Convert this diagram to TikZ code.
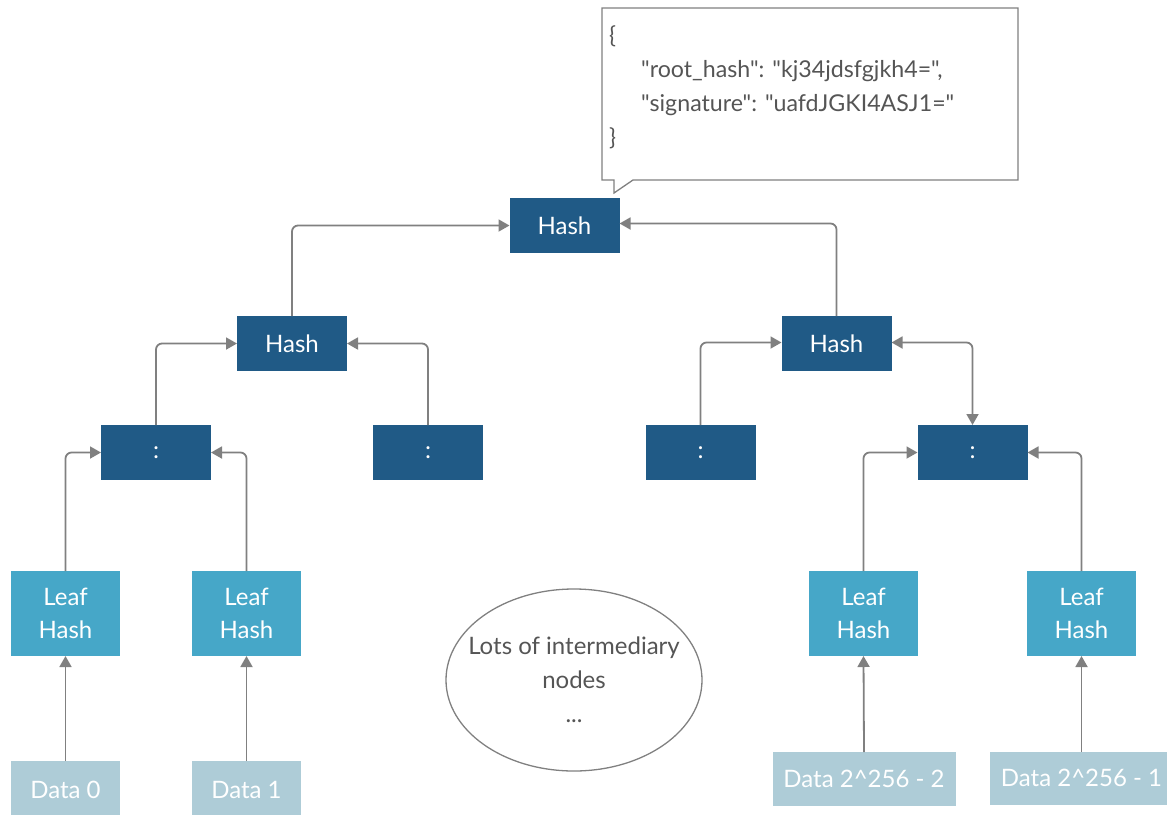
\documentclass[tikz,border=0pt]{standalone}
\usepackage{fontspec}
\setmainfont{Lato}[Ligatures=TeXOff]
\usetikzlibrary{arrows.meta,shapes.geometric}

\definecolor{hashblue}{RGB}{32,90,134}
\definecolor{leafblue}{RGB}{70,167,200}
\definecolor{datablue}{RGB}{174,204,215}
\definecolor{linegrey}{RGB}{128,128,128}
\definecolor{textgrey}{RGB}{85,85,85}

\tikzset{
  hashbox/.style={rectangle, fill=hashblue, text=white, inner sep=0pt, outer sep=0pt,
    minimum width=110pt, minimum height=55pt, font=\fontsize{24}{28}\selectfont},
  leafbox/.style={rectangle, fill=leafblue, text=white, inner sep=0pt, outer sep=0pt,
    minimum width=109pt, minimum height=85pt, align=center,
    font=\fontsize{24}{33}\selectfont},
  databox/.style={rectangle, fill=datablue, text=white, inner sep=0pt, outer sep=0pt,
    minimum height=54pt, font=\fontsize{24}{28}\selectfont},
  link/.style={draw=linegrey, line width=1.8pt, rounded corners=6pt,
    >={Triangle[length=11pt,width=12pt]}, ->},
  calltext/.style={anchor=base west, inner sep=0pt, text=textgrey,
    font=\fontsize{23.2}{28}\selectfont},
}

\begin{document}
\begin{tikzpicture}[x=1pt,y=-1pt]
  \useasboundingbox (0,0) rectangle (1167,814);
  \clip (0,0) rectangle (1167,814);

  % speech-bubble with the signed root
  \draw[linegrey, line width=1.3pt, fill=white]
    (602,8) -- (1018,8) -- (1018,180) -- (633,180) -- (614,193) -- (614,180)
    -- (602,180) -- cycle;
  \node[calltext] (ob) at (609,43) {\{};
  \node[calltext] (rh) at (641,77) {"root\_hash": "kj34jdsfgjkh4=",};
  \node[calltext] (sg) at (641,111) {"signature": "uafdJGKI4ASJ1="};
  \node[calltext] (cb) at (609,145) {\}};

  % tree of hashes
  \node[hashbox] (root) at (564.5,225.5) {Hash};
  \node[hashbox] (hl) at (292,343.5) {Hash};
  \node[hashbox] (hr) at (836.5,343.5) {Hash};
  \node[hashbox] (i1) at (156,452.5) {:};
  \node[hashbox] (i2) at (428,452.5) {:};
  \node[hashbox] (i3) at (700.5,452.5) {:};
  \node[hashbox] (i4) at (972.5,452.5) {:};

  \node[leafbox] (l1) at (65.5,613.5) {Leaf\\Hash};
  \node[leafbox] (l2) at (246.5,613.5) {Leaf\\Hash};
  \node[leafbox] (l3) at (863.5,613.5) {Leaf\\Hash};
  \node[leafbox] (l4) at (1081.5,613.5) {Leaf\\Hash};

  % data blocks (the first two run past the lower edge)
  \node[databox, minimum width=109pt, minimum height=60pt] (d1) at (65.5,791) {};
  \node[databox, minimum width=109pt, minimum height=60pt] (d2) at (246.5,791) {};
  \node[text=white, font=\fontsize{24}{28}\selectfont, inner sep=0pt] (t1) at (65.5,790) {Data 0};
  \node[text=white, font=\fontsize{24}{28}\selectfont, inner sep=0pt] (t2) at (246.5,790) {Data 1};
  \node[databox, minimum width=183pt] (d3) at (864,779) {Data 2\^{}256 - 2};
  \node[databox, minimum width=183pt, minimum height=53pt] (d4) at (1081.5,778) {Data 2\^{}256 - 1};

  % the elided middle of the tree
  \node[ellipse, draw=linegrey, line width=1.3pt, minimum width=256pt, minimum height=182pt,
    inner sep=0pt] (many) at (574,680) {};
  \node[align=center, text=textgrey, inner sep=0pt, font=\fontsize{24}{34}\selectfont]
    (manytext) at (many.center) {Lots of intermediary\\nodes\\...};

  % connectors
  \draw[link] (hl.north) |- (root.west);
  \draw[link] (hr.north) |- ([yshift=2pt]root.east);
  \draw[link] (i1.north) |- (hl.west);
  \draw[link] (i2.north) |- (hl.east);
  \draw[link] (i3.north) |- ([yshift=1pt]hr.west);
  \draw[link, <->] ([yshift=1pt]hr.east) -| (i4.north);
  \draw[link] (l1.north) |- (i1.west);
  \draw[link] (l2.north) |- (i1.east);
  \draw[link] (l3.north) |- (i4.west);
  \draw[link] (l4.north) |- (i4.east);
  \draw[link] (d1.north) -- (l1.south);
  \draw[link] (d2.north) -- (l2.south);
  \draw[link] (d3.north) -- (l3.south);
  \draw[link] (d4.north) -- (l4.south);
\end{tikzpicture}
\end{document}
